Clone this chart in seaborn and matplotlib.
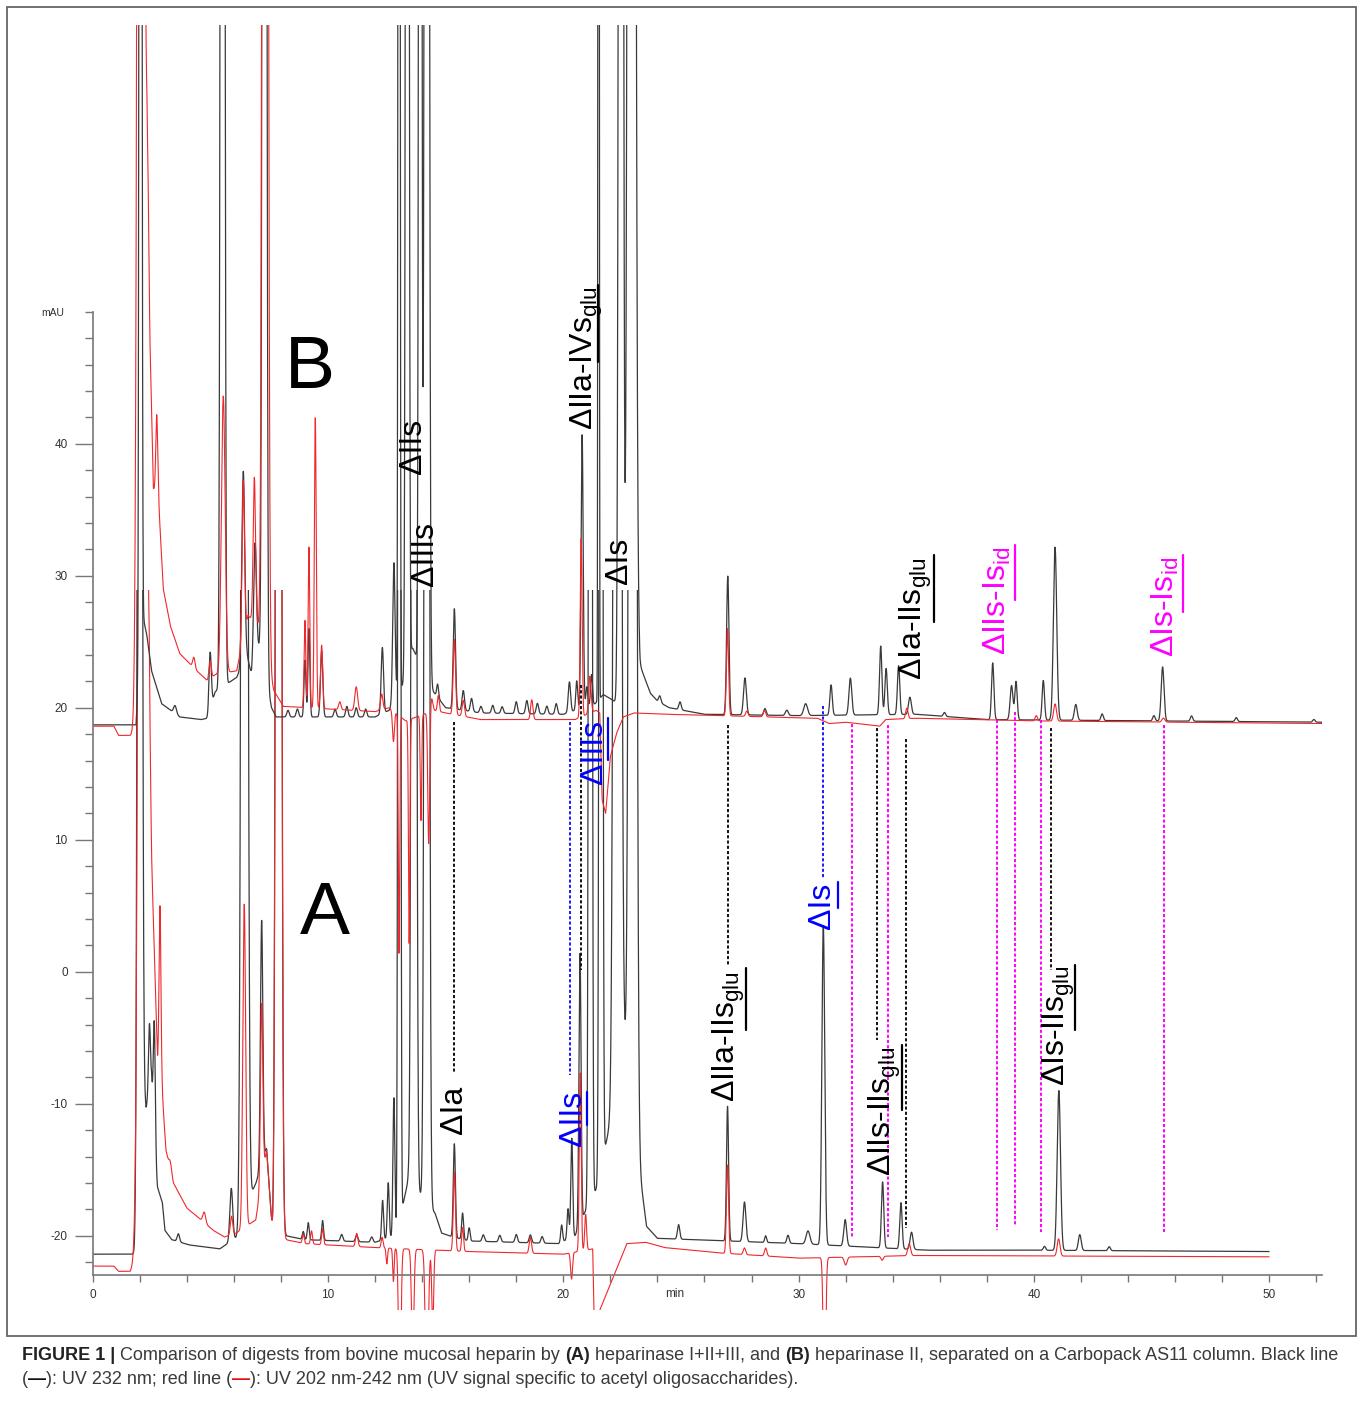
import numpy as np
import pandas as pd
import matplotlib
matplotlib.use("Agg")
import matplotlib.pyplot as plt
import seaborn as sns
from matplotlib.patches import Rectangle
from matplotlib.lines import Line2D

sns.set_theme(style="white")
plt.rcParams["font.family"] = ["Liberation Sans", "DejaVu Sans"]
plt.rcParams["mathtext.fontset"] = "custom"
plt.rcParams["mathtext.rm"] = "Liberation Sans"
plt.rcParams["mathtext.it"] = "Liberation Sans:italic"
plt.rcParams["mathtext.bf"] = "Liberation Sans:bold"

# ---------------- data (minutes, mAU) ----------------
# Trace B, UV 232 nm (black): baseline knots and peak table
b232_base_t = [0, 1.84, 2.12, 2.3, 2.5, 2.93, 3.7, 4.6, 4.9, 5.2, 6.12, 6.55, 6.75, 7.1, 7.6, 7.8,
               12.0, 12.6, 13.25, 13.41, 13.6, 14.48, 15.0, 16.5, 20.0, 21.35, 21.7, 22.62, 23.13,
               23.26, 23.7, 24.0, 24.5, 26.0, 30.0, 35.0, 38.0, 52.3]
b232_base_v = [18.7, 18.7, 27.0, 25.5, 22.8, 20.3, 19.3, 19.1, 19.2, 21.2, 22.3, 24.0, 22.5, 24.8, 20.0, 19.3,
               19.3, 19.8, 22.0, 23.9, 24.5, 21.2, 20.0, 19.6, 19.5, 20.3, 21.0, 20.0, 27.0,
               23.2, 21.1, 20.5, 20.0, 19.5, 19.4, 19.5, 19.1, 18.9]
b232_pk_t = [2.03, 3.5, 4.99, 5.52, 6.40, 6.90, 7.30, 8.3, 8.7, 9.02, 9.19, 9.73, 10.3, 10.8, 11.2, 11.6,
             12.31, 12.80, 13.02, 13.37, 13.92, 14.20, 14.66, 15.37, 15.75, 16.10, 16.5, 17.0, 17.4,
             18.0, 18.45, 18.9, 19.3, 19.7, 20.26, 20.57, 20.80, 21.0, 21.2, 21.5, 22.45, 22.90,
             24.1, 24.96, 26.99, 27.72, 28.57, 29.5, 30.3, 31.38, 32.2, 33.49, 33.72, 34.25, 34.73,
             36.2, 38.25, 39.05, 39.24, 40.40, 40.90, 41.78, 42.9, 45.1, 45.47, 46.7, 48.6, 51.9]
b232_pk_h = [250, 0.6, 4.4, 300, 14.5, 9.0, 300, 0.5, 0.6, 4.3, 6.7, 5.0, 0.6, 0.8, 0.7, 0.6,
             5.0, 10.5, 250, 250, 250, 300, 1.0, 7.6, 1.5, 1.0, 0.5, 0.6, 0.5,
             0.9, 1.0, 0.8, 0.6, 0.8, 2.3, 2.2, 20.7, 1.5, 2.3, 250, 300, 400,
             0.5, 0.6, 10.5, 2.8, 0.5, 0.4, 0.9, 2.3, 2.8, 5.2, 3.5, 3.7, 1.3,
             0.3, 4.3, 2.6, 2.9, 3.0, 13.1, 1.2, 0.5, 0.4, 4.1, 0.4, 0.3, 0.2]
b232_pk_w = [0.04, 0.06, 0.05, 0.06, 0.06, 0.06, 0.06, 0.05, 0.05, 0.04, 0.04, 0.05, 0.05, 0.05, 0.05, 0.05,
             0.05, 0.05, 0.03, 0.05, 0.045, 0.065, 0.04, 0.05, 0.05, 0.05, 0.05, 0.05, 0.05,
             0.05, 0.05, 0.05, 0.05, 0.05, 0.05, 0.04, 0.045, 0.04, 0.04, 0.02, 0.065, 0.1,
             0.05, 0.05, 0.05, 0.06, 0.05, 0.06, 0.08, 0.05, 0.06, 0.05, 0.05, 0.05, 0.06,
             0.05, 0.05, 0.06, 0.05, 0.05, 0.07, 0.06, 0.05, 0.05, 0.06, 0.05, 0.05, 0.05]

# Trace B, UV 202-242 nm (red)
b202_base_t = [0, 0.9, 1.1, 1.6, 1.8, 1.84, 2.3, 2.35, 2.43, 2.58, 2.79, 3.0, 3.3, 3.7, 4.42, 4.9,
               5.2, 6.12, 6.6, 7.05, 7.7, 8.1, 12.0, 12.6, 13.3, 14.5, 15.0, 16.5, 20.5, 21.4, 21.55,
               21.65, 21.8, 22.0, 22.27, 22.55, 23.0, 24.4, 26.6, 30.8, 31.3, 32.0, 33.45, 33.7, 35.0,
               40.0, 52.3]
b202_base_v = [18.6, 18.6, 17.9, 17.9, 18.3, 18.6, 62.0, 60.0, 48.0, 36.6, 36.0, 29.0, 26.2, 24.1, 22.8, 22.0,
               22.5, 22.8, 27.0, 26.1, 21.3, 20.1, 19.7, 20.0, 19.0, 19.8, 19.6, 19.1, 19.1, 19.8, 19.6,
               13.0, 12.0, 16.3, 18.1, 19.3, 19.6, 19.5, 19.4, 19.2, 18.8, 18.9, 18.6, 19.1, 19.2,
               19.0, 18.8]
b202_pk_t = [2.03, 2.72, 4.3, 4.99, 5.55, 6.40, 6.87, 7.33, 9.02, 9.19, 9.46, 9.73, 10.5, 11.2,
             12.28, 12.78, 13.02, 13.45, 13.95, 14.28, 14.40, 14.69, 15.37, 15.75, 18.66,
             20.76, 21.13, 26.98, 27.8, 28.55, 34.6, 40.1, 40.9, 45.5]
b202_pk_h = [200, 6.0, 0.8, 1.4, 21.0, 12.0, 11.0, 300, 6.6, 12.2, 22.0, 4.8, 0.6, 1.8,
             1.2, -2.3, -18.0, -17.0, -8.0, -10.0, 1.0, 1.2, 5.7, 1.2, 1.5,
             13.5, 2.8, 6.6, 0.4, 0.5, 0.8, 0.4, 1.3, 0.3]
b202_pk_w = [0.1, 0.04, 0.05, 0.05, 0.08, 0.05, 0.05, 0.08, 0.035, 0.035, 0.04, 0.045, 0.05, 0.06,
             0.05, 0.04, 0.03, 0.03, 0.03, 0.04, 0.05, 0.04, 0.05, 0.05, 0.05,
             0.04, 0.05, 0.045, 0.05, 0.05, 0.05, 0.05, 0.06, 0.06]

# Trace A, UV 232 nm (black)
a232_base_t = [0, 1.84, 2.1, 2.27, 2.5, 2.68, 2.75, 2.96, 3.07, 3.36, 4.1, 5.4, 6.15, 6.3, 6.7, 6.94,
               7.39, 7.65, 8.2, 9.0, 12.0, 12.9, 13.41, 14.55, 14.83, 15.3, 16.0, 19.8, 20.5, 20.9,
               21.42, 22.6, 23.54, 24.0, 30.0, 35.5, 40.0, 50.0]
a232_base_v = [-21.4, -21.4, -9.0, -10.4, -8.0, -14.5, -16.3, -17.5, -19.6, -20.3, -20.7, -21.0, -20.1, -19.0,
               -17.0, -16.0, -13.4, -20.15, -20.0, -20.3, -20.5, -20.0, -15.8, -18.3, -19.8, -20.1, -20.4,
               -20.6, -20.0, -18.3, -16.4, -6.3, -19.3, -20.2, -20.6, -21.1, -21.1, -21.2]
a232_pk_t = [2.0, 2.41, 2.62, 3.64, 5.89, 6.45, 7.18, 7.9, 8.95, 9.16, 9.77, 10.58, 11.22, 11.86,
             12.32, 12.56, 12.8, 13.03, 13.65, 14.2, 15.37, 15.72, 16.0, 16.6, 17.3, 18.0, 18.6, 19.1,
             19.93, 20.2, 20.36, 20.71, 21.15, 21.6, 22.3, 22.95, 24.9, 26.98, 27.7, 28.6, 29.55,
             30.4, 31.05, 31.98, 33.57, 34.35, 34.8, 40.45, 41.06, 41.95, 43.2]
a232_pk_h = [200, 5.0, 8.5, 0.6, 4.0, 250, 18.5, 250, 0.6, 1.3, 1.5, 0.5, 0.5, 0.4,
             3.0, 4.2, 10.5, 250, 250, 250, 7.1, 2.0, 1.0, 0.5, 0.5, 0.6, 0.6, 0.5,
             1.3, 2.3, 7.5, 20.5, 250, 250, 300, 300, 1.1, 10.2, 3.0, 0.5, 0.6,
             1.0, 24.2, 2.0, 5.0, 3.5, 1.3, 0.3, 12.1, 1.2, 0.3]
a232_pk_w = [0.07, 0.04, 0.04, 0.05, 0.06, 0.09, 0.05, 0.08, 0.04, 0.04, 0.04, 0.05, 0.05, 0.05,
             0.04, 0.04, 0.04, 0.04, 0.07, 0.07, 0.045, 0.04, 0.04, 0.05, 0.05, 0.05, 0.05, 0.05,
             0.04, 0.04, 0.04, 0.045, 0.05, 0.05, 0.1, 0.1, 0.05, 0.045, 0.06, 0.04, 0.05,
             0.08, 0.06, 0.06, 0.05, 0.05, 0.06, 0.05, 0.07, 0.06, 0.05]

# Trace A, UV 202-242 nm (red)
a202_base_t = [0, 0.9, 1.1, 1.6, 1.75, 1.83, 2.4, 2.5, 2.76, 2.95, 3.11, 3.43, 4.0, 4.4, 5.13, 5.6,
               6.1, 6.93, 7.39, 7.65, 8.2, 9.0, 12.0, 16.0, 20.0, 21.25, 21.35, 21.56, 22.7, 23.5,
               24.3, 26.6, 30.0, 35.0, 50.0]
a202_base_v = [-22.3, -22.3, -22.7, -22.7, -22.1, -22.2, 20.0, 8.5, -6.9, -9.0, -13.5, -16.0, -17.9, -18.5,
               -19.6, -20.1, -19.8, -18.8, -13.5, -20.1, -20.3, -20.6, -20.9, -21.2, -21.4, -21.0, -30.0,
               -25.6, -20.6, -20.5, -20.9, -21.3, -21.7, -21.5, -21.6]
a202_pk_t = [2.1, 2.86, 3.3, 4.74, 5.9, 6.44, 7.18, 7.9, 8.95, 9.3, 9.77, 11.22,
             12.3, 12.5, 12.78, 13.05, 13.6, 14.2, 14.45, 15.37, 15.72, 18.6, 20.35, 20.72, 20.95,
             26.98, 27.7, 28.6, 31.1, 32.0, 33.55, 34.7, 41.05]
a202_pk_h = [150, 13.0, 0.6, 0.8, 1.4, 24.5, 13.5, 250, 0.7, 1.0, 1.2, 1.0,
             0.8, -1.2, -2.5, -12.0, -8.0, -12.0, -6.0, 6.0, 1.8, 1.2, -2.0, 13.5, 2.7,
             6.7, 0.5, 0.6, -12.0, -0.6, -0.3, 0.9, 1.3]
a202_pk_w = [0.12, 0.04, 0.05, 0.06, 0.05, 0.06, 0.05, 0.08, 0.04, 0.04, 0.04, 0.05,
             0.04, 0.03, 0.03, 0.05, 0.05, 0.06, 0.04, 0.045, 0.04, 0.05, 0.04, 0.04, 0.04,
             0.045, 0.05, 0.05, 0.05, 0.06, 0.05, 0.06, 0.06]

# level above which trace A is not recorded (mAU)
a_ceiling = 28.9

# peak-assignment annotations: (retention time, top mAU, bottom mAU, colour)
mark_t = [15.36, 20.29, 20.75, 27.00, 31.04, 32.27, 33.33, 33.80, 34.56, 38.43, 39.20, 40.30, 40.73, 45.53]
mark_top = [18.9, 18.9, 21.7, 18.7, 20.1, 18.8, 18.5, 18.7, 17.6, 19.1, 19.7, 19.1, 18.5, 18.7]
mark_bot = [-7.7, -7.8, 0.1, 0.5, 7.1, -20.1, -5.2, -20.1, -19.4, -19.6, -19.2, -19.7, 0.1, -19.7]
mark_col = ["k", "b", "k", "k", "b", "m", "k", "m", "k", "m", "m", "m", "k", "m"]

x_major = [0, 10, 20, 30, 40, 50]
y_major = [-20, -10, 0, 10, 20, 30, 40]

# ---------------- build traces ----------------
def build(grid, bt, bv, pt, ph, pw):
    y = np.interp(grid, bt, bv)
    for t0, h, w in zip(pt, ph, pw):
        y = y + h * np.exp(-0.5 * ((grid - t0) / w) ** 2)
    return y

grid_b = np.arange(0, 52.3, 0.004)
grid_a = np.arange(0, 50.0, 0.004)
df_b232 = pd.DataFrame({"t": grid_b, "v": build(grid_b, b232_base_t, b232_base_v, b232_pk_t, b232_pk_h, b232_pk_w)})
df_b202 = pd.DataFrame({"t": grid_b, "v": build(grid_b, b202_base_t, b202_base_v, b202_pk_t, b202_pk_h, b202_pk_w)})
df_a232 = pd.DataFrame({"t": grid_a, "v": build(grid_a, a232_base_t, a232_base_v, a232_pk_t, a232_pk_h, a232_pk_w)})
df_a202 = pd.DataFrame({"t": grid_a, "v": build(grid_a, a202_base_t, a202_base_v, a202_pk_t, a202_pk_h, a202_pk_w)})

# ---------------- figure ----------------
W, H = 1360, 1401
fig = plt.figure(figsize=(W / 100, H / 100), dpi=100)
fig.patch.set_facecolor("white")

X0, PXMIN = 92.7, 23.53   # pixel of t=0, px per minute
Y0, PXMAU = 971.7, 13.2   # pixel of 0 mAU, px per mAU
ax_l, ax_r, ax_t, ax_b = X0, 1322, 25, 1310
ax = fig.add_axes([ax_l / W, 1 - ax_b / H, (ax_r - ax_l) / W, (ax_b - ax_t) / H])
xmax = (ax_r - X0) / PXMIN
ymin, ymax = (Y0 - ax_b) / PXMAU, (Y0 - ax_t) / PXMAU
ax.set_xlim(0, xmax)
ax.set_ylim(ymin, ymax)
ax.set_facecolor("none")

BLK = "#3a3a3a"
RED = "#f0282d"
clipA = Rectangle((0, ymin), xmax, a_ceiling - ymin, transform=ax.transData)
for df, col, lw, clip in [(df_a232, BLK, 0.9, True), (df_a202, RED, 0.8, True),
                          (df_b232, BLK, 0.9, False), (df_b202, RED, 0.8, False)]:
    sns.lineplot(data=df, x="t", y="v", ax=ax, color=col, lw=lw, estimator=None, sort=False)
    if clip:
        ax.lines[-1].set_clip_path(clipA)

for t, y1, y2, c in zip(mark_t, mark_top, mark_bot, mark_col):
    cc = {"k": "#111111", "b": "#1a1aff", "m": "#ff00ff"}[c]
    ax.plot([t, t], [y1, y2], color=cc, lw=1.4, ls=(0, (1.6, 1.1)))

# axes styling
for s in ["top", "right"]:
    ax.spines[s].set_visible(False)
ax.spines["left"].set_bounds(-23, 50)
ax.spines["bottom"].set_position(("data", -23))
ax.spines["bottom"].set_bounds(0, xmax)
for s in ["left", "bottom"]:
    ax.spines[s].set_color("#777777")
    ax.spines[s].set_linewidth(1.2)
ax.set_xticks(x_major)
ax.set_xticklabels([str(v) for v in x_major])
ax.set_xticks(np.arange(0, 53, 2), minor=True)
ax.set_yticks(y_major)
ax.set_yticklabels([str(v) for v in y_major])
ax.set_yticks(np.arange(-22, 51, 2), minor=True)
ax.tick_params(axis="x", which="both", direction="out", length=5, width=1, color="#777777",
               labelsize=8.5, labelcolor="#333333", pad=5, bottom=True)
ax.tick_params(axis="y", which="major", direction="out", length=13, width=1, color="#777777",
               labelsize=8.5, labelcolor="#333333", pad=5, left=True)
ax.tick_params(axis="y", which="minor", direction="out", length=6, width=1, color="#777777", left=True)
ax.set_xlabel("")
ax.set_ylabel("")
ax.grid(False)
fig.text(53 / W, 1 - 313 / H, "mAU", fontsize=7.5, color="#333333", ha="center", va="center")
fig.text(675 / W, 1 - 1294 / H, "min", fontsize=8.5, color="#333333", ha="center", va="center")

# big panel letters
fig.text(310 / W, 1 - 368 / H, "B", fontsize=54, color="black", ha="center", va="center")
fig.text(325 / W, 1 - 915 / H, "A", fontsize=54, color="black", ha="center", va="center")

# rotated peak labels (centre px)
KC, BC, MC = "black", "#0000ff", "#ff00ff"
labels = [
    ("ΔIIs", 413, 446, KC), ("ΔIIIs", 425, 554, KC), (r"ΔIIa-IV$\mathrm{s}_{\mathrm{glu}}$", 587, 358, KC),
    ("ΔIs", 619, 561, KC), (r"ΔIa-II$\mathrm{s}_{\mathrm{glu}}$", 916, 619, KC),
    (r"ΔIIs-I$\mathrm{s}_{\mathrm{id}}$", 997, 601, MC), (r"ΔIs-I$\mathrm{s}_{\mathrm{id}}$", 1165, 607, MC),
    ("ΔIIIs", 594, 752, BC), ("ΔIa", 454, 1110, KC), ("ΔIIs", 573, 1118, BC),
    (r"ΔIIa-II$\mathrm{s}_{\mathrm{glu}}$", 729, 1037, KC), ("ΔIs", 822, 906, BC),
    (r"ΔIIs-II$\mathrm{s}_{\mathrm{glu}}$", 885, 1111, KC), (r"ΔIs-II$\mathrm{s}_{\mathrm{glu}}$", 1059, 1026, KC),
]
for s, x, y, c in labels:
    fig.text(x / W, 1 - y / H, s, fontsize=23, color=c, rotation=90, ha="center", va="center")

# underlines (vertical because the labels are rotated)
ulines = [(598, 285, 362, KC), (934, 555, 622, KC), (1015, 545, 600, MC), (1183, 555, 612, MC),
          (608, 718, 760, BC), (587, 1092, 1125, BC), (746, 968, 1030, KC), (838, 882, 908, BC),
          (902, 1045, 1110, KC), (1075, 965, 1030, KC)]
for x, y1, y2, c in ulines:
    fig.add_artist(Line2D([x / W, x / W], [1 - y1 / H, 1 - y2 / H], color=c, lw=1.6, transform=fig.transFigure))

# outer frame
fig.add_artist(Rectangle((7 / W, 1 - 1336 / H), (1356 - 7) / W, (1336 - 7) / H, fill=False,
                         edgecolor="#666666", lw=1.3, transform=fig.transFigure))

# caption
renderer = fig.canvas.get_renderer()
CAPC = "#3a3a3a"
CAPF = ["Liberation Sans", "DejaVu Sans"]
cap1 = [("FIGURE 1 | ", "bold", "#222222"),
        ("Comparison of digests from bovine mucosal heparin by ", "normal", CAPC),
        ("(A)", "bold", "#222222"), (" heparinase I+II+III, and ", "normal", CAPC),
        ("(B)", "bold", "#222222"),
        (" heparinase II, separated on a Carbopack AS11 column. Black line", "normal", CAPC)]
cap2 = [("(", "normal", CAPC), ("—", "bold", "#111111"), ("): UV 232 nm; red line (", "normal", CAPC),
        ("—", "bold", "#e01010"),
        ("): UV 202 nm-242 nm (UV signal specific to acetyl oligosaccharides).", "normal", CAPC)]

def place(pieces, x0, y, size):
    objs = []
    x = x0
    for s, wgt, c in pieces:
        t = fig.text(x / W, 1 - y / H, s, fontsize=size, fontweight=wgt, color=c, ha="left", va="center",
                     family=CAPF)
        x += t.get_window_extent(renderer).width
        objs.append(t)
    return objs, x

objs, xend = place(cap1, 22, 1355, 12)
size = 12 * (1342 - 22) / (xend - 22)
for o in objs:
    o.remove()
place(cap1, 22, 1355, size)
place(cap2, 22, 1380, size)

fig.savefig("out.png", dpi=100)
